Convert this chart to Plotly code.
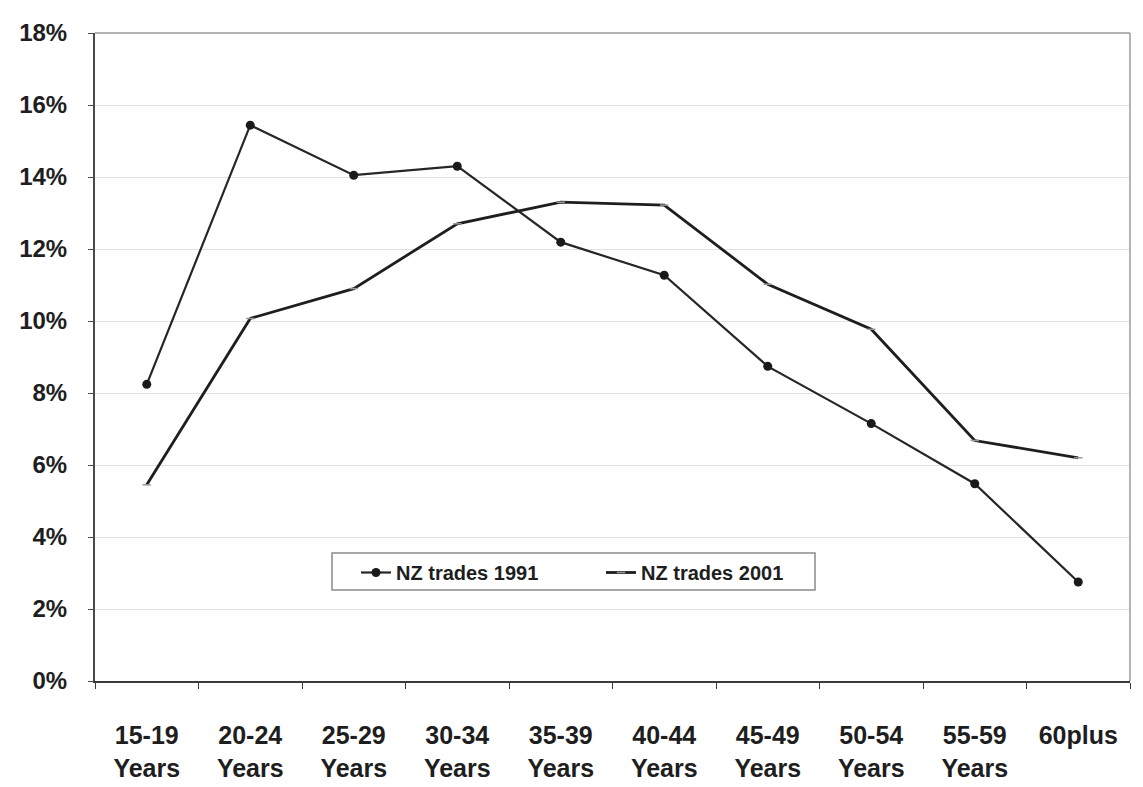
import plotly.graph_objects as go

# Age groups and share of NZ trades workforce (%)
age_groups = ["15-19<br>Years", "20-24<br>Years", "25-29<br>Years", "30-34<br>Years",
              "35-39<br>Years", "40-44<br>Years", "45-49<br>Years", "50-54<br>Years",
              "55-59<br>Years", "60plus<br> "]
trades_1991 = [8.24, 15.44, 14.05, 14.30, 12.19, 11.27, 8.74, 7.15, 5.48, 2.75]
trades_2001 = [5.45, 10.07, 10.90, 12.70, 13.30, 13.22, 11.02, 9.77, 6.68, 6.20]
y_ticks = [0, 2, 4, 6, 8, 10, 12, 14, 16, 18]
y_tick_text = [f"{v}%" for v in y_ticks]

FONT = "Liberation Sans"
INK = "#1e1e1e"

# plot area in pixels (for placing the legend box)
W, H = 1143, 787
ML, MR, MT, MB = 95, 13, 33, 106
PW, PH = W - ML - MR, H - MT - MB


def px_x(x):
    return (x - ML) / PW


def px_y(y):
    return (H - MB - y) / PH


fig = go.Figure()
fig.add_trace(go.Scatter(
    x=age_groups, y=trades_1991, name="NZ trades 1991", mode="lines+markers",
    line=dict(color="#262626", width=2.2),
    marker=dict(symbol="circle", size=9, color="#1a1a1a"),
))
fig.add_trace(go.Scatter(
    x=age_groups, y=trades_2001, name="NZ trades 2001", mode="lines+markers",
    line=dict(color="#1e1e1e", width=2.8),
    marker=dict(symbol="line-ew-open", size=6, color="#9a9a9a", line=dict(width=1.5, color="#9a9a9a")),
))

fig.update_layout(
    width=W, height=H,
    margin=dict(l=ML, r=MR, t=MT, b=MB),
    paper_bgcolor="white", plot_bgcolor="white",
    font=dict(family=FONT, color=INK),
    legend=dict(
        orientation="h", x=px_x(356), y=px_y(553), xanchor="left", yanchor="top",
        borderwidth=0, bgcolor="rgba(0,0,0,0)",
        font=dict(family=FONT, size=20, color=INK, weight="bold"),
        entrywidth=200, itemwidth=30, tracegroupgap=0,
    ),
    xaxis=dict(
        type="category", range=[-0.5, 9.5], automargin=False,
        showline=True, linecolor="#3a3a3a", linewidth=2,
        ticks="outside", tickson="boundaries", ticklen=6, tickcolor="#3a3a3a",
        tickfont=dict(family=FONT, size=25, color=INK, weight="bold"),
        ticklabelstandoff=31,
        showgrid=False, zeroline=False,
    ),
    yaxis=dict(
        range=[0, 18], tickvals=y_ticks, ticktext=y_tick_text, automargin=False,
        showline=True, linecolor="#4a4a4a", linewidth=2,
        ticks="outside", ticklen=5, tickcolor="#4a4a4a",
        tickfont=dict(family=FONT, size=24, color=INK, weight="bold"),
        ticklabelstandoff=16,
        showgrid=True, gridcolor="#e2e2e2", gridwidth=1,
        zeroline=False,
    ),
    shapes=[
        dict(type="line", xref="paper", yref="paper", x0=0, x1=1, y0=1, y1=1,
             line=dict(color="#9a9a9a", width=1.5)),
        dict(type="line", xref="paper", yref="paper", x0=1, x1=1, y0=0, y1=1,
             line=dict(color="#9a9a9a", width=1.5)),
        # legend frame
        dict(type="rect", xref="paper", yref="paper",
             x0=px_x(332), x1=px_x(815), y0=px_y(590), y1=px_y(553),
             line=dict(color="#8a8a8a", width=1.5), fillcolor="white", layer="below"),
    ],
)

fig.write_html("out.html")
